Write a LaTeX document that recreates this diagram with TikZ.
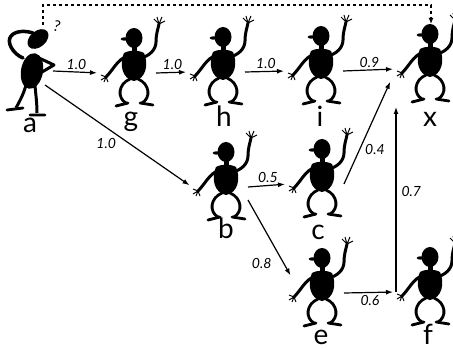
\documentclass[tikz,border=0pt]{standalone}
\usepackage{fontspec}
\setmainfont{Lato}
\usetikzlibrary{arrows.meta,positioning}

\tikzset{
  guy/.pic={
    \fill (0,-28) ellipse [x radius=8.5,y radius=10];
    \fill (-9.5,-27) ellipse [x radius=3.8,y radius=1.7];
    \fill (-2.5,-20) rectangle (2.5,-12);
    \fill (-10,-13) .. controls (-15,-2) and (-12,13) .. (0,15)
      .. controls (12,13) and (15,-2) .. (10,-13)
      .. controls (5,-16) and (-5,-16) .. (-10,-13);
    \draw[line width=3pt,line cap=round] (-8,-9) .. controls (-16,-7) and (-21,4) .. (-28,11);
    \draw[line width=3pt,line cap=round] (7,-8) .. controls (15,-10) and (22,-16) .. (22,-24)
      .. controls (22,-32) and (24,-37) .. (25,-42);
    \draw[line width=1pt] (-28,11) -- (-33,9) (-28,11) -- (-33,14) (-28,11) -- (-30,16) (-28,11) -- (-26,16);
    \draw[line width=1pt] (25,-42) -- (20,-47) (25,-42) -- (23,-49) (25,-42) -- (28,-49) (25,-42) -- (31,-45);
    \draw[line width=2.8pt] (-4,13) .. controls (-16,18) and (-17,32) .. (-8,37);
    \draw[line width=2.8pt] (4,13) .. controls (16,18) and (17,32) .. (8,37);
    \draw[line width=2.8pt,line cap=round] (-6,37) -- (-18,40) (6,37) -- (19,39);
    \coordinate (-hand) at (-34,7);
    \coordinate (-out) at (22,7);
    \coordinate (-top) at (1,-38);
    \coordinate (-side) at (-30,-8);
    \coordinate (-hip) at (22,20);
  },
  thinker/.pic={
    \fill[rotate around={40:(7,-31)}] (7,-31) ellipse [x radius=12,y radius=8];
    \draw[line width=3.5pt,line cap=round] (-8,-12) .. controls (-18,-16) and (-25,-28) .. (-20,-34)
      .. controls (-15,-40) and (-4,-39) .. (2,-37);
    \fill[rotate around={-10:(1,1)}] (1,1) ellipse [x radius=11,y radius=18];
    \draw[line width=3pt,line join=round,line cap=round] (8,-12) -- (23,-5) -- (11,2);
    \draw[line width=3pt] (-5,15) .. controls (-8,26) and (-12,32) .. (-15,38);
    \draw[line width=3pt] (4,16) .. controls (5,26) and (6,34) .. (6,43);
    \draw[line width=2.8pt,line cap=round] (-24,40) -- (-8,38) (-1,45) -- (14,45);
    \coordinate (-out) at (22,1);
    \coordinate (-low) at (14,15);
    \coordinate (-top) at (12,-45);
  }
}

\begin{document}
\begin{tikzpicture}[x=1pt,y=-1pt,
    edge/.style={line width=1.2pt,-{Latex[length=7pt,width=5pt]},shorten >=3pt},
    wt/.style={font=\itshape\fontsize{14}{14}\selectfont,inner sep=2pt},
    lbl/.style={font=\fontsize{28}{28}\selectfont,anchor=base,inner sep=0pt}]
  \useasboundingbox (0,0) rectangle (453,350);

  \pic (a) at (31,70) {thinker};
  \pic (g) at (134,66) {guy};
  \pic (h) at (223,65) {guy};
  \pic (i) at (321,64) {guy};
  \pic (x) at (430,62) {guy};
  \pic (b) at (226,180) {guy};
  \pic (c) at (322,177) {guy};
  \pic (e) at (322,286) {guy};
  \pic (f) at (430,285) {guy};

  \node[font=\fontsize{15}{15}\selectfont,rotate=-15] (q) at (57,26) {?};

  \node[lbl] (A) at (30,133) {a};
  \node[lbl] (G) at (131,127) {g};
  \node[lbl] (H) at (224,127) {h};
  \node[lbl] (I) at (320,127) {i};
  \node[lbl] (X) at (430,127) {x};
  \node[lbl] (B) at (226,239) {b};
  \node[lbl] (C) at (318,240) {c};
  \node[lbl] (E) at (321,344) {e};
  \node[lbl] (F) at (428,344) {f};

  \draw[edge] (a-out) -- (g-hand) node[midway,above,wt] {1.0};
  \draw[edge] (g-out) -- (h-hand) node[midway,above,wt] {1.0};
  \draw[edge] (h-out) -- (i-hand) node[midway,above,wt] {1.0};
  \draw[edge] (i-out) -- (x-hand) node[midway,above,wt] {0.9};
  \draw[edge] (a-low) -- (b-hand) node[midway,below left,wt] {1.0};
  \draw[edge] (b-out) -- (c-hand) node[midway,above,wt] {0.5};
  \draw[edge] (b-hip) -- (e-side) node[pos=0.82,left=10pt,wt] {0.8};
  \draw[edge,shorten >=14pt] (c-out) -- (x-hand) node[pos=0.3,right=3pt,wt] {0.4};
  \draw[edge] (e-out) -- (f-hand) node[midway,below,wt] {0.6};
  \draw[edge,shorten >=38pt] (f-hand) -- (f-hand |- x-hand) node[pos=0.45,right=3pt,wt] {0.7};
  \draw[line width=1.2pt,dash pattern=on 3pt off 3pt,-{Latex[length=6pt,width=5pt]}]
    (a-top) -- ++(0,-20) -| (x-top);
\end{tikzpicture}
\end{document}
